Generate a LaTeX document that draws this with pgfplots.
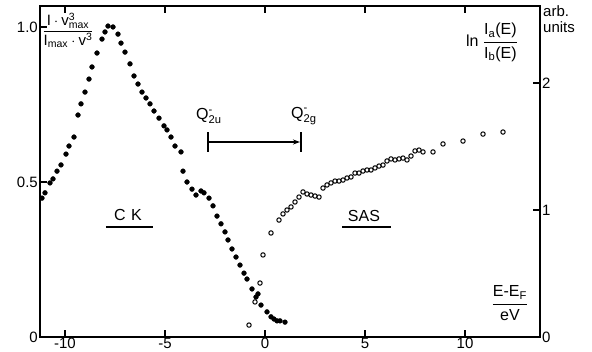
\documentclass[border=0pt]{standalone}
\usepackage{pgfplots}
\pgfplotsset{compat=1.18}
\usepackage{amsmath}
\usepackage{fontspec}
\setmainfont{Liberation Sans}
\usetikzlibrary{arrows.meta}

\pgfplotstableread{
x y
-11.15 0.448
-11.0 0.465
-10.75 0.497
-10.6 0.510
-10.4 0.535
-10.2 0.555
-9.95 0.590
-9.8 0.616
-9.55 0.645
-9.35 0.716
-9.2 0.752
-9.0 0.790
-8.8 0.832
-8.65 0.871
-8.4 0.916
-8.15 0.961
-8.0 0.984
-7.85 1.003
-7.6 1.0
-7.35 0.977
-7.2 0.948
-7.0 0.919
-6.75 0.881
-6.55 0.842
-6.35 0.816
-6.15 0.790
-5.95 0.771
-5.75 0.752
-5.55 0.729
-5.3 0.706
-5.05 0.681
-4.9 0.668
-4.7 0.645
-4.5 0.616
-4.2 0.597
-4.1 0.535
-3.9 0.500
-3.65 0.477
-3.45 0.458
-3.2 0.471
-3.05 0.465
-2.8 0.448
-2.6 0.423
-2.4 0.390
-2.2 0.365
-2.0 0.339
-1.85 0.313
-1.65 0.284
-1.45 0.258
-1.25 0.232
-1.05 0.206
-0.9 0.187
-0.65 0.155
-0.45 0.129
-0.35 0.139
-0.2 0.103
0.1 0.081
0.3 0.065
0.45 0.058
0.6 0.052
0.75 0.052
1.0 0.048
}\ck

\pgfplotstableread{
x y
-0.8 0.094
-0.5 0.276
-0.25 0.425
-0.1 0.646
0.3 0.819
0.7 0.921
0.9 0.969
1.1 1.000
1.3 1.024
1.5 1.063
1.7 1.102
1.9 1.142
2.1 1.126
2.3 1.118
2.5 1.110
2.7 1.102
2.9 1.173
3.1 1.197
3.3 1.213
3.5 1.228
3.7 1.228
3.9 1.236
4.1 1.252
4.3 1.260
4.5 1.291
4.7 1.291
4.9 1.307
5.1 1.315
5.3 1.315
5.5 1.331
5.7 1.346
5.9 1.354
6.1 1.386
6.3 1.402
6.5 1.394
6.7 1.402
6.9 1.409
7.1 1.394
7.3 1.425
7.5 1.465
7.7 1.472
7.9 1.457
8.4 1.457
8.9 1.520
9.9 1.543
10.9 1.598
11.9 1.614
}\sas

\pgfplotsset{
  base/.style={
    scale only axis, width=500pt, height=331pt,
    at={(0pt,0pt)}, anchor=south west,
    xmin=-11.25, xmax=13.75,
    tick align=inside,
    major tick length=7pt,
    axis line style={line width=1.5pt},
    every tick/.style={line width=1.3pt, black},
    tick label style={font=\fontsize{15}{17}\selectfont},
    /pgf/number format/assume math mode=true,
  }
}

\begin{document}
\begin{tikzpicture}
\useasboundingbox (-40pt,-14pt) rectangle (552pt,337pt);
\begin{axis}[base, clip=false,
  ymin=0, ymax=1.0677,
  xtick={-10,-5,0,5,10},
  xticklabels={-10,-5,0,5,10},
  xtick pos=both, xticklabel pos=lower,
  ytick={0,0.5,1}, yticklabels={0,0.5,1.0},
  ytick pos=left,
  xticklabel style={inner sep=0.5pt, yshift=0pt},
  yticklabel style={inner sep=2pt},
]
\addplot[only marks, mark=*, mark size=2.4pt, black] table {\ck};

\node[font=\fontsize{15}{17}\selectfont] at (axis cs:-9.85,0.99) {$\dfrac{\text{I}\cdot\text{v}^{\text{3}}_{\text{max}}}{\text{I}_{\text{max}}\cdot\text{v}^{\text{3}}}$};
\node[font=\fontsize{16}{18}\selectfont] at (axis cs:11.35,0.95) {ln $\dfrac{\text{I}_{\text{a}}\text{(E)}}{\text{I}_{\text{b}}\text{(E)}}$};
\node[font=\fontsize{16}{18}\selectfont] at (axis cs:12.25,0.11) {$\dfrac{\text{E-E}_{\text{F}}}{\text{eV}}$};
\node[anchor=north west, align=left, inner sep=0pt, xshift=3pt, yshift=1pt, font=\fontsize{15}{16}\selectfont] at (rel axis cs:1,1) {arb.\\units};

\node[font=\fontsize{16}{18}\selectfont] at (axis cs:-6.85,0.394) {C\,\,K};
\draw[line width=1.3pt] (axis cs:-7.95,0.355) -- (axis cs:-5.6,0.355);
\node[font=\fontsize{16}{18}\selectfont] at (axis cs:4.95,0.39) {SAS};
\draw[line width=1.3pt] (axis cs:3.85,0.355) -- (axis cs:6.3,0.355);

\node[anchor=west, inner sep=0pt, font=\fontsize{16}{18}\selectfont] at (axis cs:-3.45,0.713) {Q$^{\text{-}}_{\text{2u}}$};
\node[anchor=west, inner sep=0pt, font=\fontsize{16}{18}\selectfont] at (axis cs:1.3,0.713) {Q$^{\text{-}}_{\text{2g}}$};
\draw[line width=1.2pt, -{Stealth[length=7pt,width=5pt]}] (axis cs:-2.85,0.629) -- (axis cs:1.75,0.629);
\draw[line width=1.2pt] (axis cs:-2.85,0.597) -- (axis cs:-2.85,0.661);
\draw[line width=1.2pt] (axis cs:1.8,0.597) -- (axis cs:1.8,0.661);
\end{axis}

\begin{axis}[base,
  ymin=0, ymax=2.6063,
  axis x line=none,
  axis y line*=right,
  ytick={0,1,2},
  yticklabel style={inner sep=2pt},
]
\addplot[only marks, mark=o, mark size=2.2pt, black, mark options={line width=1pt}] table {\sas};
\end{axis}
\end{tikzpicture}
\end{document}
